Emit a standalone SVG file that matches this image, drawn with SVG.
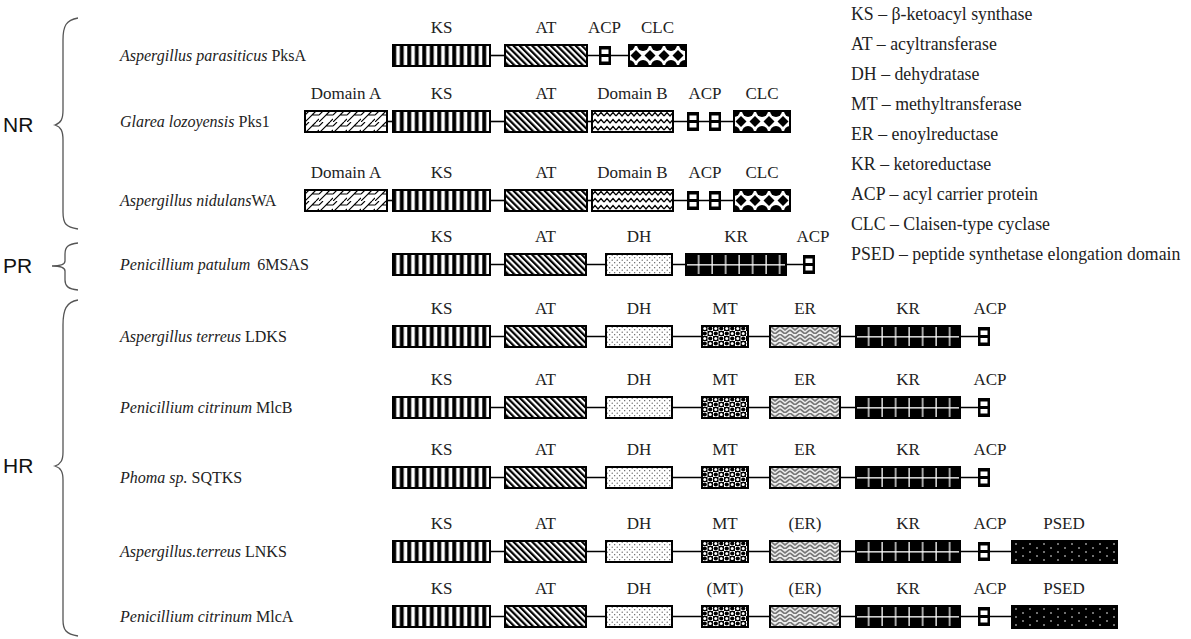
<svg xmlns="http://www.w3.org/2000/svg" width="1191" height="639" viewBox="0 0 1191 639">
<style>
  .lbl{font-family:"Liberation Serif",serif;font-size:17px;fill:#222;text-anchor:middle}
  .leg{font-family:"Liberation Serif",serif;font-size:17.8px;fill:#222}
  .sp{font-family:"Liberation Serif",serif;font-size:16px;fill:#222}
  .sp .it{font-style:italic}
  .grp{font-family:"Liberation Sans",sans-serif;font-size:21px;fill:#111}
  .br{fill:none;stroke:#555;stroke-width:1.3}
  .box{stroke:#000;stroke-width:2}
  .ks{fill:url(#pKS)} .at{fill:url(#pAT)} .da{fill:url(#pDA)} .db{fill:url(#pDB)}
  .clc{fill:url(#pCLC)} .dh{fill:url(#pDH)} .kr{fill:url(#pKR)} .mt{fill:url(#pMT)}
  .er{fill:url(#pER)} .psed{fill:url(#pPSED)}
  #connectors line{stroke:#000;stroke-width:1.6}
</style>
<defs>
  <pattern id="pKS" patternUnits="userSpaceOnUse" width="7.5" height="30">
    <rect width="7.5" height="30" fill="#000"/><rect x="3.2" width="3.6" height="30" fill="#fff"/>
  </pattern>
  <pattern id="pAT" patternUnits="userSpaceOnUse" width="4.4" height="10" patternTransform="rotate(-45)">
    <rect width="4.4" height="10" fill="#fff"/><rect width="2.2" height="10" fill="#000"/>
  </pattern>
  <pattern id="pDA" patternUnits="userSpaceOnUse" width="14" height="11">
    <rect width="14" height="11" fill="#fff"/>
    <path d="M0 11 L7 4 L14 4 M7 4 L11 0 M0 4 L4 0 M11 11 L14 8" stroke="#000" stroke-width="1.1" fill="none"/>
  </pattern>
  <pattern id="pDB" patternUnits="userSpaceOnUse" width="12" height="7">
    <rect width="12" height="7" fill="#fff"/>
    <path d="M0 5 L3 1.5 L6 5 L9 1.5 L12 5" stroke="#000" stroke-width="1.2" fill="none"/>
  </pattern>
  <pattern id="pCLC" patternUnits="userSpaceOnUse" width="14" height="21">
    <rect width="14" height="21" fill="#fff"/>
    <path d="M7 5 L12.5 10.5 L7 16 L1.5 10.5Z" fill="#000"/>
    <circle cx="0" cy="0" r="6" fill="#000"/><circle cx="14" cy="0" r="6" fill="#000"/>
    <circle cx="0" cy="21" r="6" fill="#000"/><circle cx="14" cy="21" r="6" fill="#000"/>
  </pattern>
  <pattern id="pDH" patternUnits="userSpaceOnUse" width="5" height="5">
    <rect width="5" height="5" fill="#fff"/>
    <circle cx="1.2" cy="1.2" r="0.6" fill="#444"/><circle cx="3.7" cy="3.7" r="0.6" fill="#444"/>
  </pattern>
  <pattern id="pKR" patternUnits="userSpaceOnUse" width="13.5" height="22">
    <rect width="13.5" height="22" fill="#000"/>
    <rect x="12" width="1.3" height="22" fill="#fff"/><rect y="10.2" width="13.5" height="1.3" fill="#fff"/>
  </pattern>
  <pattern id="pMT" patternUnits="userSpaceOnUse" width="11" height="10">
    <rect width="11" height="10" fill="#fff"/>
    <rect width="5.5" height="5" fill="#000"/><rect x="5.5" y="5" width="5.5" height="5" fill="#000"/>
    <circle cx="2.75" cy="2.5" r="1.5" fill="#fff"/><circle cx="8.25" cy="7.5" r="1.5" fill="#fff"/>
    <circle cx="8.25" cy="2.5" r="2.1" fill="#000"/><circle cx="2.75" cy="7.5" r="2.1" fill="#000"/>
  </pattern>
  <pattern id="pER" patternUnits="userSpaceOnUse" width="10" height="8">
    <rect width="10" height="8" fill="#eee"/>
    <path d="M0 0 L5 4 L10 0 M0 4 L5 8 L10 4" stroke="#777" stroke-width="1.7" fill="none"/>
  </pattern>
  <pattern id="pPSED" patternUnits="userSpaceOnUse" width="14" height="8">
    <rect width="14" height="8" fill="#000"/>
    <circle cx="4" cy="3" r="0.8" fill="#fff"/><circle cx="11" cy="7" r="0.8" fill="#fff"/>
  </pattern>
  <g id="acp">
    <rect x="1" y="1" width="10" height="17" fill="#000" stroke="#000" stroke-width="2"/>
    <rect x="2.5" y="3.5" width="7" height="4.5" fill="#fff"/>
    <rect x="2.5" y="11" width="7" height="4.5" fill="#fff"/>
  </g>
</defs>
<rect width="1191" height="639" fill="#fff"/>

<!-- group labels and braces -->
<g id="group-NR"><text class="grp" x="3" y="132">NR</text>
  <path class="br" d="M78,18 C66,20 63,26 63,40 L63,110 C63,119 61,123 55,125 C61,127 63,131 63,140 L63,212 C63,224 66,227 78,229"/></g>
<g id="group-PR"><text class="grp" x="3" y="273">PR</text>
  <path class="br" d="M78,243 C68,244 65,247 65,254 L65,261 C65,264 62,266 52,266 C62,266 65,268 65,271 L65,280 C65,286 68,289 78,290"/></g>
<g id="group-HR"><text class="grp" x="3" y="473">HR</text>
  <path class="br" d="M78,300 C66,302 63,310 63,325 L63,452 C63,460 61,464 55,466 C61,468 63,472 63,480 L63,620 C63,630 66,634 78,636"/></g>

<!-- species names -->
<g id="species">
  <text class="sp" x="120" y="61"><tspan class="it">Aspergillus parasiticus</tspan> PksA</text>
  <text class="sp" x="120" y="127"><tspan class="it">Glarea lozoyensis</tspan> Pks1</text>
  <text class="sp" x="120" y="206"><tspan class="it">Aspergillus nidulans</tspan>WA</text>
  <text class="sp" x="120" y="270"><tspan class="it">Penicillium patulum</tspan><tspan dx="7">6MSAS</tspan></text>
  <text class="sp" x="120" y="342"><tspan class="it">Aspergillus terreus</tspan> LDKS</text>
  <text class="sp" x="120" y="413"><tspan class="it">Penicillium citrinum</tspan> MlcB</text>
  <text class="sp" x="120" y="483"><tspan class="it">Phoma sp.</tspan> SQTKS</text>
  <text class="sp" x="120" y="557"><tspan class="it">Aspergillus.terreus</tspan> LNKS</text>
  <text class="sp" x="120" y="622"><tspan class="it">Penicillium citrinum</tspan> MlcA</text>
</g>

<!-- connectors -->
<g id="connectors">
  <line x1="490" y1="55.5" x2="505" y2="55.5"/><line x1="587" y1="55.5" x2="629" y2="55.5"/>
  <line x1="387" y1="121.5" x2="393" y2="121.5"/><line x1="490" y1="121.5" x2="505" y2="121.5"/><line x1="587" y1="121.5" x2="592" y2="121.5"/><line x1="673" y1="121.5" x2="734" y2="121.5"/>
  <line x1="387" y1="200.5" x2="393" y2="200.5"/><line x1="490" y1="200.5" x2="505" y2="200.5"/><line x1="587" y1="200.5" x2="592" y2="200.5"/><line x1="673" y1="200.5" x2="734" y2="200.5"/>
  <line x1="490" y1="264.5" x2="803" y2="264.5"/>
  <line x1="490" y1="336.5" x2="978" y2="336.5"/>
  <line x1="490" y1="407.5" x2="978" y2="407.5"/>
  <line x1="490" y1="477.5" x2="978" y2="477.5"/>
  <line x1="490" y1="551.5" x2="1012" y2="551.5"/>
  <line x1="490" y1="616.5" x2="1012" y2="616.5"/>
</g>

<!-- Row 1: PksA -->
<g id="r1">
  <g class="lbl"><text x="441.5" y="33">KS</text><text x="546" y="33">AT</text><text x="604.5" y="33">ACP</text><text x="657.5" y="33">CLC</text></g>
  <g id="r1-ks" transform="translate(393,45)"><rect class="box ks" width="97" height="21"/></g>
  <g id="r1-at" transform="translate(505,45)"><rect class="box at" width="82" height="21"/></g>
  <g id="r1-acp" transform="translate(599,46)"><use href="#acp"/></g>
  <g id="r1-clc" transform="translate(629,45)"><rect class="box clc" width="57" height="21"/></g>
</g>
<!-- Row 2: Pks1 -->
<g id="r2">
  <g class="lbl"><text x="346" y="99">Domain A</text><text x="441.5" y="99">KS</text><text x="546" y="99">AT</text><text x="632.5" y="99">Domain B</text><text x="705" y="99">ACP</text><text x="762" y="99">CLC</text></g>
  <g id="r2-da" transform="translate(305,111)"><rect class="box da" width="82" height="21"/></g>
  <g id="r2-ks" transform="translate(393,111)"><rect class="box ks" width="97" height="21"/></g>
  <g id="r2-at" transform="translate(505,111)"><rect class="box at" width="82" height="21"/></g>
  <g id="r2-db" transform="translate(592,111)"><rect class="box db" width="81" height="21"/></g>
  <g id="r2-acp1" transform="translate(687,112)"><use href="#acp"/></g>
  <g id="r2-acp2" transform="translate(709,112)"><use href="#acp"/></g>
  <g id="r2-clc" transform="translate(734,111)"><rect class="box clc" width="56" height="21"/></g>
</g>
<!-- Row 3: WA -->
<g id="r3">
  <g class="lbl"><text x="346" y="178">Domain A</text><text x="441.5" y="178">KS</text><text x="546" y="178">AT</text><text x="632.5" y="178">Domain B</text><text x="705" y="178">ACP</text><text x="762" y="178">CLC</text></g>
  <g id="r3-da" transform="translate(305,190)"><rect class="box da" width="82" height="21"/></g>
  <g id="r3-ks" transform="translate(393,190)"><rect class="box ks" width="97" height="21"/></g>
  <g id="r3-at" transform="translate(505,190)"><rect class="box at" width="82" height="21"/></g>
  <g id="r3-db" transform="translate(592,190)"><rect class="box db" width="81" height="21"/></g>
  <g id="r3-acp1" transform="translate(687,191)"><use href="#acp"/></g>
  <g id="r3-acp2" transform="translate(709,191)"><use href="#acp"/></g>
  <g id="r3-clc" transform="translate(734,190)"><rect class="box clc" width="56" height="21"/></g>
</g>
<!-- Row 4: 6MSAS -->
<g id="r4">
  <g class="lbl"><text x="441.5" y="242">KS</text><text x="545.5" y="242">AT</text><text x="639" y="242">DH</text><text x="736" y="242">KR</text><text x="813" y="242">ACP</text></g>
  <g id="r4-ks" transform="translate(393,254)"><rect class="box ks" width="97" height="21"/></g>
  <g id="r4-at" transform="translate(505,254)"><rect class="box at" width="81" height="21"/></g>
  <g id="r4-dh" transform="translate(606,254)"><rect class="box dh" width="66" height="21"/></g>
  <g id="r4-kr" transform="translate(686,254)"><rect class="box kr" width="100" height="21"/></g>
  <g id="r4-acp" transform="translate(803,255)"><use href="#acp"/></g>
</g>
<!-- Row 5: LDKS -->
<g id="r5">
  <g class="lbl"><text x="441.5" y="314">KS</text><text x="545.5" y="314">AT</text><text x="639" y="314">DH</text><text x="725" y="314">MT</text><text x="805" y="314">ER</text><text x="908" y="314">KR</text><text x="990" y="314">ACP</text></g>
  <g id="r5-ks" transform="translate(393,326)"><rect class="box ks" width="97" height="21"/></g>
  <g id="r5-at" transform="translate(505,326)"><rect class="box at" width="81" height="21"/></g>
  <g id="r5-dh" transform="translate(606,326)"><rect class="box dh" width="66" height="21"/></g>
  <g id="r5-mt" transform="translate(702,326)"><rect class="box mt" width="46" height="21"/></g>
  <g id="r5-er" transform="translate(770,326)"><rect class="box er" width="70" height="21"/></g>
  <g id="r5-kr" transform="translate(856,326)"><rect class="box kr" width="104" height="21"/></g>
  <g id="r5-acp" transform="translate(978,327)"><use href="#acp"/></g>
</g>
<!-- Row 6: MlcB -->
<g id="r6">
  <g class="lbl"><text x="441.5" y="385">KS</text><text x="545.5" y="385">AT</text><text x="639" y="385">DH</text><text x="725" y="385">MT</text><text x="805" y="385">ER</text><text x="908" y="385">KR</text><text x="990" y="385">ACP</text></g>
  <g id="r6-ks" transform="translate(393,397)"><rect class="box ks" width="97" height="21"/></g>
  <g id="r6-at" transform="translate(505,397)"><rect class="box at" width="81" height="21"/></g>
  <g id="r6-dh" transform="translate(606,397)"><rect class="box dh" width="66" height="21"/></g>
  <g id="r6-mt" transform="translate(702,397)"><rect class="box mt" width="46" height="21"/></g>
  <g id="r6-er" transform="translate(770,397)"><rect class="box er" width="70" height="21"/></g>
  <g id="r6-kr" transform="translate(856,397)"><rect class="box kr" width="104" height="21"/></g>
  <g id="r6-acp" transform="translate(978,398)"><use href="#acp"/></g>
</g>
<!-- Row 7: SQTKS -->
<g id="r7">
  <g class="lbl"><text x="441.5" y="455">KS</text><text x="545.5" y="455">AT</text><text x="639" y="455">DH</text><text x="725" y="455">MT</text><text x="805" y="455">ER</text><text x="908" y="455">KR</text><text x="990" y="455">ACP</text></g>
  <g id="r7-ks" transform="translate(393,467)"><rect class="box ks" width="97" height="21"/></g>
  <g id="r7-at" transform="translate(505,467)"><rect class="box at" width="81" height="21"/></g>
  <g id="r7-dh" transform="translate(606,467)"><rect class="box dh" width="66" height="21"/></g>
  <g id="r7-mt" transform="translate(702,467)"><rect class="box mt" width="46" height="21"/></g>
  <g id="r7-er" transform="translate(770,467)"><rect class="box er" width="70" height="21"/></g>
  <g id="r7-kr" transform="translate(856,467)"><rect class="box kr" width="104" height="21"/></g>
  <g id="r7-acp" transform="translate(978,468)"><use href="#acp"/></g>
</g>
<!-- Row 8: LNKS -->
<g id="r8">
  <g class="lbl"><text x="441.5" y="529">KS</text><text x="545.5" y="529">AT</text><text x="639" y="529">DH</text><text x="725" y="529">MT</text><text x="805" y="529">(ER)</text><text x="908" y="529">KR</text><text x="990" y="529">ACP</text><text x="1064" y="529">PSED</text></g>
  <g id="r8-ks" transform="translate(393,541)"><rect class="box ks" width="97" height="21"/></g>
  <g id="r8-at" transform="translate(505,541)"><rect class="box at" width="81" height="21"/></g>
  <g id="r8-dh" transform="translate(606,541)"><rect class="box dh" width="66" height="21"/></g>
  <g id="r8-mt" transform="translate(702,541)"><rect class="box mt" width="46" height="21"/></g>
  <g id="r8-er" transform="translate(770,541)"><rect class="box er" width="70" height="21"/></g>
  <g id="r8-kr" transform="translate(856,541)"><rect class="box kr" width="104" height="21"/></g>
  <g id="r8-acp" transform="translate(978,542)"><use href="#acp"/></g>
  <g id="r8-psed" transform="translate(1012,541)"><rect class="box psed" width="105" height="22"/></g>
</g>
<!-- Row 9: MlcA -->
<g id="r9">
  <g class="lbl"><text x="441.5" y="594">KS</text><text x="545.5" y="594">AT</text><text x="639" y="594">DH</text><text x="725" y="594">(MT)</text><text x="805" y="594">(ER)</text><text x="908" y="594">KR</text><text x="990" y="594">ACP</text><text x="1064" y="594">PSED</text></g>
  <g id="r9-ks" transform="translate(393,606)"><rect class="box ks" width="97" height="21"/></g>
  <g id="r9-at" transform="translate(505,606)"><rect class="box at" width="81" height="21"/></g>
  <g id="r9-dh" transform="translate(606,606)"><rect class="box dh" width="66" height="21"/></g>
  <g id="r9-mt" transform="translate(702,606)"><rect class="box mt" width="46" height="21"/></g>
  <g id="r9-er" transform="translate(770,606)"><rect class="box er" width="70" height="21"/></g>
  <g id="r9-kr" transform="translate(856,606)"><rect class="box kr" width="104" height="21"/></g>
  <g id="r9-acp" transform="translate(978,607)"><use href="#acp"/></g>
  <g id="r9-psed" transform="translate(1012,606)"><rect class="box psed" width="105" height="22"/></g>
</g>

<!-- legend -->
<g id="legend" class="leg">
  <text x="851" y="20">KS – β-ketoacyl synthase</text>
  <text x="851" y="50">AT – acyltransferase</text>
  <text x="851" y="80">DH – dehydratase</text>
  <text x="851" y="110">MT – methyltransferase</text>
  <text x="851" y="140">ER – enoylreductase</text>
  <text x="851" y="170">KR – ketoreductase</text>
  <text x="851" y="200">ACP – acyl carrier protein</text>
  <text x="851" y="230">CLC – Claisen-type cyclase</text>
  <text x="851" y="260">PSED – peptide synthetase elongation domain</text>
</g>
</svg>
